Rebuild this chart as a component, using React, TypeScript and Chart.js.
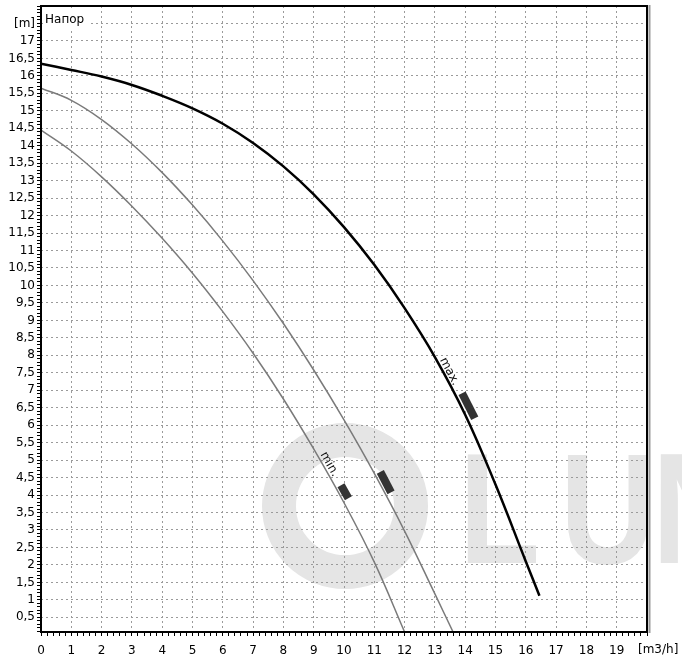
import React, { useEffect, useRef } from 'react';
import { Chart, registerables } from 'chart.js';

Chart.register(...registerables);

// ---- data ----
const flowMax = [0, 1, 2, 3, 4, 5, 6, 7, 8, 9, 10, 11, 12, 13, 14, 15, 16, 16.45];
const headMax = [16.35, 16.17, 15.98, 15.74, 15.43, 15.07, 14.63, 14.08, 13.41, 12.61, 11.67, 10.59, 9.35, 7.95, 6.3, 4.3, 2.1, 1.12];

const flowMid = [0, 1, 2, 3, 4, 5, 6, 7, 8, 9, 10, 11, 12, 13, 13.6];
const headMid = [15.65, 15.3, 14.75, 14.05, 13.23, 12.3, 11.27, 10.14, 8.91, 7.58, 6.15, 4.62, 2.97, 1.17, 0.08];

const flowMin = [0, 1, 2, 3, 4, 5, 6, 7, 8, 9, 10, 11, 12];
const headMin = [14.45, 13.85, 13.11, 12.27, 11.35, 10.35, 9.25, 8.06, 6.75, 5.32, 3.78, 2.08, 0.08];

// tick labels
const xTickLabels = ['0', '1', '2', '3', '4', '5', '6', '7', '8', '9', '10', '11', '12', '13', '14', '15', '16', '17', '18', '19'];
const xUnitLabel = '[m3/h]';
const yTickLabels = ['0,5', '1', '1,5', '2', '2,5', '3', '3,5', '4', '4,5', '5', '5,5', '6', '6,5', '7', '7,5', '8', '8,5', '9', '9,5', '10', '10,5', '11', '11,5', '12', '12,5', '13', '13,5', '14', '14,5', '15', '15,5', '16', '16,5', '17', '[m]'];
const yTitle = 'Напор';

// curve markers (flow position along each curve)
const markerCurve = [0, 1, 2];
const markerFlow = [13.9, 11.2, 9.85];
const curveLabelText = ['max.', 'min.'];
const curveLabelCurve = [0, 2];
const curveLabelFlow = [13.3, 9.34];

const watermarkText = ['L', 'U', 'N'];

const curvesX = [flowMax, flowMid, flowMin];
const curvesY = [headMax, headMid, headMin];

function headAt(xs: number[], ys: number[], x: number): number {
  for (let i = 0; i < xs.length - 1; i++) {
    if (x >= xs[i] && x <= xs[i + 1]) {
      const t = (x - xs[i]) / (xs[i + 1] - xs[i]);
      return ys[i] + t * (ys[i + 1] - ys[i]);
    }
  }
  return ys[ys.length - 1];
}

const FONT = "'DejaVu Sans', 'Verdana', sans-serif";

export default function App() {
  const ref = useRef<HTMLCanvasElement>(null);

  useEffect(() => {
    const canvas = ref.current!;
    const xTickPos: number[] = [];
    for (let i = 0; i <= 100; i++) xTickPos.push(i / 5);
    const yTickPos: number[] = [];
    for (let i = 1; i <= 180; i++) yTickPos.push(i / 10);

    const decor = {
      id: 'decor',
      beforeDraw(chart: any) {
        const ctx = chart.ctx;
        ctx.save();
        ctx.fillStyle = '#ffffff';
        ctx.fillRect(0, 0, chart.width, chart.height);
        // watermark
        ctx.strokeStyle = '#e5e5e5';
        ctx.lineWidth = 34;
        ctx.beginPath();
        ctx.arc(345, 506, 66, 0, Math.PI * 2);
        ctx.stroke();
        ctx.fillStyle = '#e5e5e5';
        ctx.font = `bold 158px 'Liberation Sans', Arial, sans-serif`;
        ctx.textBaseline = 'alphabetic';
        const sx = 0.84;
        const lefts = [459, 560, 652];
        watermarkText.forEach((t, i) => {
          ctx.save();
          ctx.translate(lefts[i], 563);
          ctx.scale(sx, 1);
          ctx.fillText(t, 0, 0);
          ctx.restore();
        });
        ctx.restore();
      },
      afterDraw(chart: any) {
        const ctx = chart.ctx;
        const a = chart.chartArea;
        const xs = chart.scales.x;
        const ys = chart.scales.y;
        ctx.save();
        // frame
        ctx.strokeStyle = '#000';
        ctx.lineWidth = 2;
        ctx.strokeRect(a.left, a.top, a.right - a.left, a.bottom - a.top);
        ctx.strokeStyle = '#9a9a9a';
        ctx.lineWidth = 2;
        ctx.beginPath();
        ctx.moveTo(a.right + 2.5, a.top - 1);
        ctx.lineTo(a.right + 2.5, a.bottom + 1);
        ctx.stroke();

        // axis title
        ctx.fillStyle = '#fff';
        ctx.fillRect(a.left + 2, a.top + 4, 48, 18);
        ctx.fillStyle = '#000';
        ctx.font = `12px ${FONT}`;
        ctx.textAlign = 'left';
        ctx.textBaseline = 'alphabetic';
        ctx.fillText(yTitle, a.left + 4, a.top + 17);

        // x unit label
        ctx.textBaseline = 'top';
        ctx.fillText(xUnitLabel, xs.getPixelForValue(20) - 9, a.bottom + 12);

        const frame = (ci: number, x: number) => {
          const cx = curvesX[ci], cy = curvesY[ci];
          const p0x = xs.getPixelForValue(x - 0.15), p0y = ys.getPixelForValue(headAt(cx, cy, x - 0.15));
          const p1x = xs.getPixelForValue(x + 0.15), p1y = ys.getPixelForValue(headAt(cx, cy, x + 0.15));
          const ang = Math.atan2(p1y - p0y, p1x - p0x);
          return {
            px: xs.getPixelForValue(x),
            py: ys.getPixelForValue(headAt(cx, cy, x)),
            ang,
            nx: Math.sin(ang),
            ny: -Math.cos(ang),
          };
        };

        // markers
        const sizes = [[28, 8, 7], [23, 8, 6], [15, 8, 6]];
        ctx.fillStyle = '#333333';
        markerCurve.forEach((ci, k) => {
          const f = frame(ci, markerFlow[k]);
          const [L, W, off] = sizes[ci];
          ctx.save();
          ctx.translate(f.px + f.nx * off, f.py + f.ny * off);
          ctx.rotate(f.ang);
          ctx.fillRect(-L / 2, -W / 2, L, W);
          ctx.restore();
        });

        // curve labels
        ctx.fillStyle = '#111';
        ctx.font = `12px ${FONT}`;
        ctx.textAlign = 'center';
        ctx.textBaseline = 'alphabetic';
        curveLabelText.forEach((t, k) => {
          const f = frame(curveLabelCurve[k], curveLabelFlow[k]);
          ctx.save();
          ctx.translate(f.px + f.nx * 3, f.py + f.ny * 3);
          ctx.rotate(f.ang);
          ctx.fillText(t, 0, 0);
          ctx.restore();
        });
        ctx.restore();
      },
    };

    const toPts = (xs: number[], ys: number[]) => xs.map((x, i) => ({ x, y: ys[i] }));

    const chart = new Chart(canvas, {
      type: 'line',
      data: {
        datasets: [
          { data: toPts(flowMax, headMax), borderColor: '#000', borderWidth: 2.5, pointRadius: 0, tension: 0.4, fill: false },
          { data: toPts(flowMid, headMid), borderColor: '#7a7a7a', borderWidth: 1.5, pointRadius: 0, tension: 0.4, fill: false },
          { data: toPts(flowMin, headMin), borderColor: '#7a7a7a', borderWidth: 1.5, pointRadius: 0, tension: 0.4, fill: false },
        ],
      },
      options: {
        animation: false,
        responsive: false,
        devicePixelRatio: 1,
        layout: { padding: { left: 0, right: 35, top: 6, bottom: 0 } },
        plugins: { legend: { display: false }, tooltip: { enabled: false } },
        scales: {
          x: {
            type: 'linear',
            min: 0,
            max: 20,
            bounds: 'data',
            afterBuildTicks: (s: any) => { s.ticks = xTickPos.map((v) => ({ value: v })); },
            afterFit: (s: any) => { s.height = 29; s.paddingLeft = 0; s.paddingRight = 0; },
            ticks: {
              autoSkip: false,
              maxRotation: 0,
              minRotation: 0,
              padding: 8,
              color: '#000',
              font: { family: FONT, size: 12 },
              callback: (_v: any, i: number) => (i % 5 === 0 && i / 5 < 20 ? xTickLabels[i / 5] : ''),
            },
            grid: {
              color: (c: any) => (c.index % 5 === 0 && c.index > 0 && c.index < 100 ? '#9a9a9a' : 'rgba(0,0,0,0)'),
              lineWidth: 1,
              drawTicks: true,
              tickLength: 4,
              tickColor: '#000',
              tickWidth: 1,
            },
            border: { display: false, dash: [2, 3] },
          },
          y: {
            type: 'linear',
            min: 0.08,
            max: 18,
            bounds: 'data',
            afterBuildTicks: (s: any) => { s.ticks = yTickPos.map((v) => ({ value: v })); },
            afterFit: (s: any) => { s.width = 41; s.paddingTop = 0; s.paddingBottom = 0; },
            ticks: {
              autoSkip: false,
              padding: 2,
              color: '#000',
              font: { family: FONT, size: 12 },
              callback: (_v: any, i: number) => ((i + 1) % 5 === 0 && (i + 1) / 5 <= 35 ? yTickLabels[(i + 1) / 5 - 1] : ''),
            },
            grid: {
              color: (c: any) => ((c.index + 1) % 5 === 0 && c.index + 1 < 180 ? '#9a9a9a' : 'rgba(0,0,0,0)'),
              lineWidth: 1,
              drawTicks: true,
              tickLength: 4,
              tickColor: '#000',
              tickWidth: 1,
            },
            border: { display: false, dash: [2, 3] },
          },
        },
      },
      plugins: [decor],
    } as any);

    return () => chart.destroy();
  }, []);

  return (
    <div style={{ position: 'fixed', left: 0, top: 0, width: 682, height: 661, background: '#fff' }}>
      <canvas ref={ref} width={682} height={661} style={{ display: 'block' }} />
    </div>
  );
}
